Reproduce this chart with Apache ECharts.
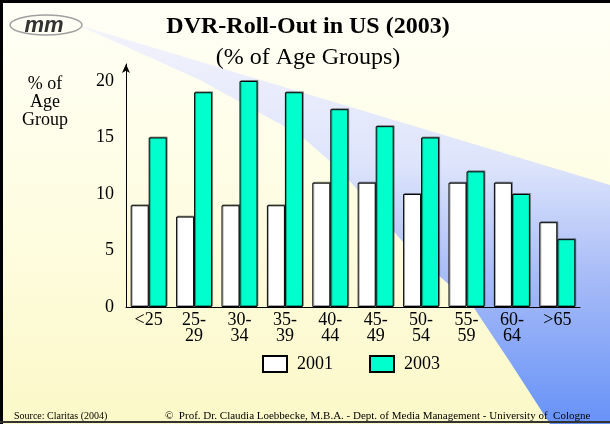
<!DOCTYPE html>
<html><head><meta charset="utf-8">
<script src="https://cdn.jsdelivr.net/npm/echarts@6/dist/echarts.min.js"></script>
<style>html,body{margin:0;padding:0;background:#fff}#c{width:610px;height:424px}</style>
</head><body><div id="c"></div>
<script>
const categories = ['<25', '25-\n29', '30-\n34', '35-\n39', '40-\n44', '45-\n49', '50-\n54', '55-\n59', '60-\n64', '>65'];
const seriesNames = ['2001', '2003'];
const values2001 = [9, 8, 9, 9, 11, 11, 10, 11, 11, 7.5];
const values2003 = [15, 19, 20, 19, 17.5, 16, 15, 12, 10, 6];
const yTicks = [0, 5, 10, 15, 20];

const SERIF = "'Liberation Serif', 'DejaVu Serif', serif";
const chart = echarts.init(document.getElementById('c'), null, {renderer: 'canvas'});

function barStyle(color) {
  return {color: color, borderColor: '#000', borderWidth: 1,
    shadowColor: 'rgba(0,0,0,0.35)', shadowOffsetX: 1, shadowOffsetY: -1, shadowBlur: 0};
}

const option = {
  animation: false,
  backgroundColor: 'transparent',
  textStyle: {fontFamily: SERIF, color: '#000'},
  graphic: [
    {type: 'rect', z: -20, silent: true, shape: {x: 0, y: 0, width: 610, height: 424},
      style: {fill: new echarts.graphic.LinearGradient(0, 0, 0, 1, [
        {offset: 0, color: '#fffff7'}, {offset: 0.5, color: '#fefde2'}, {offset: 1, color: '#fbf8c8'}])}},
    {type: 'polygon', z: -19, silent: true,
      shape: {points: [[78, 25], [610, 185], [610, 424], [550, 424], [510, 362], [472, 305], [410, 250], [340, 170], [300, 135], [200, 80]]},
      style: {fill: new echarts.graphic.LinearGradient(0, 25, 0, 424, [
        {offset: 0, color: '#f3f3fc'}, {offset: 0.35, color: '#dde4fb'}, {offset: 0.62, color: '#a9bdf7'}, {offset: 1, color: '#6792f7'}], true)}},
    {type: 'line', z: 50, silent: true, shape: {x1: 0, y1: 1.5, x2: 610, y2: 1.5}, style: {stroke: '#000', lineWidth: 3}},
    {type: 'line', z: 50, silent: true, shape: {x1: 1.5, y1: 0, x2: 1.5, y2: 424}, style: {stroke: '#000', lineWidth: 3}},
    {type: 'line', z: 50, silent: true, shape: {x1: 0, y1: 422, x2: 610, y2: 422}, style: {stroke: '#333', lineWidth: 2}},
    {type: 'ellipse', z: 5, silent: true, shape: {cx: 46, cy: 25, rx: 36, ry: 10}, style: {fill: 'none', stroke: '#a0a0a0', lineWidth: 1.5}},
    {type: 'text', z: 6, silent: true, x: 44, y: 26, style: {text: 'mm', fontSize: 22, fontStyle: 'italic', fontWeight: 'bold',
      fontFamily: "'Liberation Sans', Arial, sans-serif", fill: '#333', align: 'center', verticalAlign: 'middle'}},
    {type: 'text', z: 10, x: 308, y: 27, style: {text: 'DVR-Roll-Out in US (2003)', fontSize: 24, fontWeight: 'bold',
      fontFamily: SERIF, fill: '#000', align: 'center', verticalAlign: 'middle'}},
    {type: 'text', z: 10, x: 308, y: 58, style: {text: '(% of Age Groups)', fontSize: 24,
      fontFamily: SERIF, fill: '#000', align: 'center', verticalAlign: 'middle'}},
    {type: 'text', z: 10, x: 45, y: 102, style: {text: '% of\nAge\nGroup', fontSize: 18, lineHeight: 18,
      fontFamily: SERIF, fill: '#000', align: 'center', verticalAlign: 'middle'}},
    {type: 'text', z: 10, x: 14, y: 416, style: {text: 'Source: Claritas (2004)', fontSize: 10,
      fontFamily: SERIF, fill: '#000', align: 'left', verticalAlign: 'middle'}},
    {type: 'text', z: 10, x: 165, y: 416, style: {text: '\u00A9  Prof. Dr. Claudia Loebbecke, M.B.A. - Dept. of Media Management - University of  Cologne', fontSize: 11,
      fontFamily: SERIF, fill: '#000', align: 'left', verticalAlign: 'middle'}}
  ],
  legend: {
    data: seriesNames, left: 262, top: 355, itemWidth: 24, itemHeight: 16, itemGap: 36, icon: 'rect', padding: 0,
    textStyle: {fontSize: 18, fontFamily: SERIF, color: '#000', padding: [0, 0, 0, 5]}
  },
  grid: {left: 126, right: 30, top: 64, bottom: 117, containLabel: false},
  xAxis: {
    type: 'category', data: categories,
    axisLine: {lineStyle: {color: '#000', width: 1}},
    axisTick: {show: false},
    axisLabel: {interval: 0, fontSize: 18, lineHeight: 16, margin: 5, color: '#000', fontFamily: SERIF}
  },
  yAxis: {
    type: 'value', min: 0, max: 21.5, interval: 5,
    axisLine: {show: true, symbol: ['none', 'arrow'], symbolSize: [6, 9], lineStyle: {color: '#000', width: 1}},
    axisTick: {show: false},
    splitLine: {show: false},
    axisLabel: {fontSize: 18, margin: 12, color: '#000', fontFamily: SERIF,
      formatter: function (v) { return yTicks.indexOf(v) >= 0 ? String(v) : ''; }}
  },
  series: [
    {name: seriesNames[0], type: 'bar', data: values2001, barWidth: 18, barGap: '0%', itemStyle: barStyle('#ffffff')},
    {name: seriesNames[1], type: 'bar', data: values2003, barWidth: 18, barGap: '0%', itemStyle: barStyle('#00ffcc')}
  ]
};
chart.setOption(option);
</script>
</body></html>
